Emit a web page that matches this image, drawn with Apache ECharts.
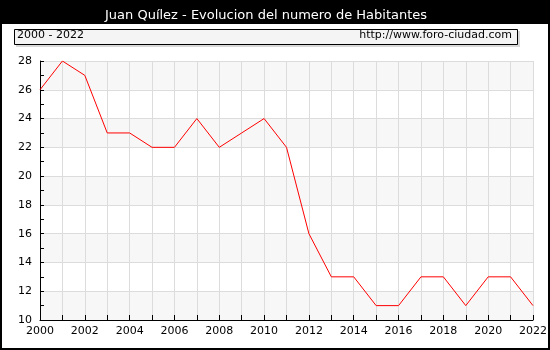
<!DOCTYPE html>
<html>
<head>
<meta charset="utf-8">
<script src="https://cdn.jsdelivr.net/npm/echarts@6/dist/echarts.min.js"></script>
<style>html,body{margin:0;padding:0;background:#fff}#c{width:550px;height:350px}</style>
</head>
<body>
<div id="c"></div>
<script>
var years = [2000,2001,2002,2003,2004,2005,2006,2007,2008,2009,2010,2011,2012,2013,2014,2015,2016,2017,2018,2019,2020,2021,2022];
var habitantes = [26,28,27,23,23,22,22,24,22,23,24,22,16,13,13,11,11,13,13,11,13,13,11];
var titleText = 'Juan Quílez - Evolucion del numero de Habitantes';
var rangeText = '2000 - 2022';
var siteText = 'http://www.foro-ciudad.com';

var chart = echarts.init(document.getElementById('c'), null, {renderer:'canvas'});
var font = 'DejaVu Sans';
chart.setOption({
  animation: false,
  textStyle: {fontFamily: font},
  grid: {left: 40, right: 14, top: 61, bottom: 30},
  graphic: [
    {type:'rect', shape:{x:0,y:0,width:550,height:24}, style:{fill:'#000'}, z:0},
    {type:'rect', shape:{x:16,y:31,width:504,height:16}, style:{fill:'#d8d8d8'}, z:0},
    {type:'rect', shape:{x:14.5,y:29.5,width:503,height:15}, style:{fill:'#f4f4f4', stroke:'#000', lineWidth:1}, z:1},
    {type:'text', left:17, top:30, style:{text:rangeText, font:'11px "DejaVu Sans"', fill:'#000'}, z:2},
    {type:'text', right:38, top:30, style:{text:siteText, font:'11px "DejaVu Sans"', fill:'#000', textAlign:'right'}, z:2},
    {type:'rect', shape:{x:1,y:1,width:548,height:348}, style:{fill:'none', stroke:'#000', lineWidth:2}, z:3}
  ],
  title: {text: titleText, left:100, top:4, textStyle:{color:'#fff', fontSize:13, fontWeight:'normal', fontFamily:font}},
  xAxis: {
    type:'value', min:2000, max:2022, interval:1,
    axisLine:{show:true, lineStyle:{color:'#000', width:1}},
    axisTick:{show:true, inside:true, length:5, lineStyle:{color:'#000'}},
    axisLabel:{color:'#000', fontSize:11, fontFamily:font, margin:6, formatter:function(v){return v%2===0?String(v):'';}},
    splitLine:{show:true, lineStyle:{color:'#dcdcdc', width:1}}
  },
  yAxis: {
    type:'value', min:10, max:28, interval:2,
    axisLine:{show:true, lineStyle:{color:'#000', width:1}},
    axisTick:{show:true, inside:true, length:4, lineStyle:{color:'#000'}},
    minorTick:{show:true, splitNumber:2, length:4, lineStyle:{color:'#000'}},
    axisLabel:{color:'#000', fontSize:11, fontFamily:font, margin:8},
    splitLine:{show:true, lineStyle:{color:'#dcdcdc', width:1}},
    splitArea:{show:true, areaStyle:{color:['#f7f7f7','#ffffff']}}
  },
  series: [{
    type:'line',
    data: years.map(function(y,i){return [y, habitantes[i]];}),
    showSymbol:false,
    lineStyle:{color:'#ff0000', width:1},
    itemStyle:{color:'#ff0000'}
  }]
});
</script>
</body>
</html>
